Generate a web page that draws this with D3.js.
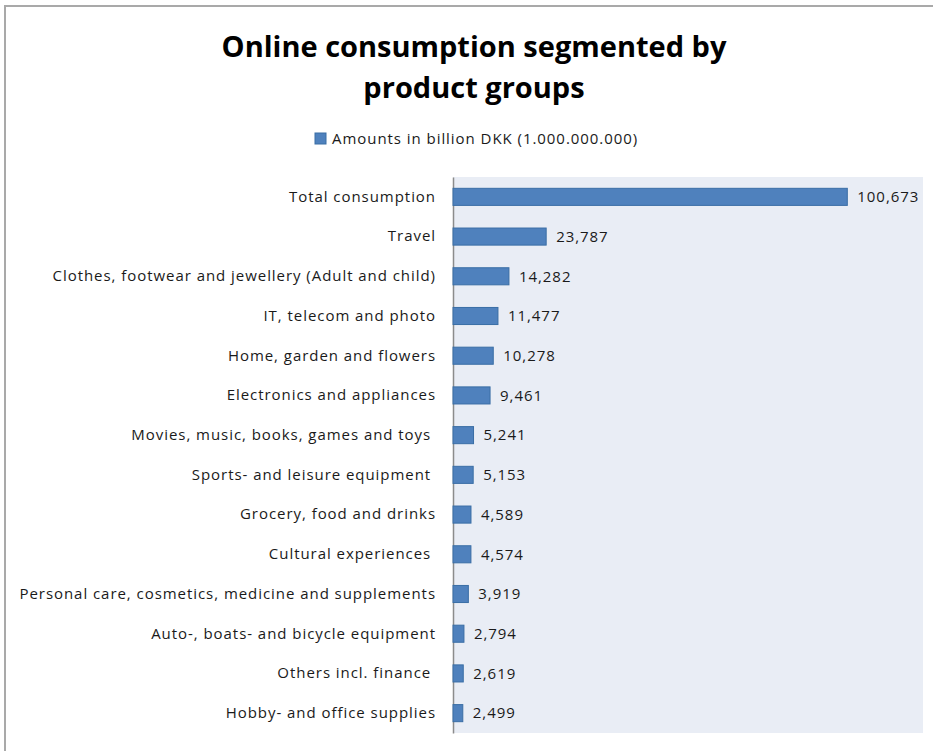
<!DOCTYPE html>
<html>
<head>
<meta charset="utf-8">
<script src="https://cdn.jsdelivr.net/npm/d3@7"></script>
<style>
  html, body { margin: 0; padding: 0; background: #fff; }
  svg text { white-space: pre; }
</style>
</head>
<body>
<svg id="chart" width="933" height="751"></svg>
<script>
// Product groups, top to bottom
const categories = [
  "Total consumption",
  "Travel",
  "Clothes, footwear and jewellery (Adult and child)",
  "IT, telecom and photo",
  "Home, garden and flowers",
  "Electronics and appliances",
  "Movies, music, books, games and toys ",
  "Sports- and leisure equipment ",
  "Grocery, food and drinks",
  "Cultural experiences ",
  "Personal care, cosmetics, medicine and supplements",
  "Auto-, boats- and bicycle equipment",
  "Others incl. finance ",
  "Hobby- and office supplies"
];

// Amounts in billion DKK
const values = [100.673, 23.787, 14.282, 11.477, 10.278, 9.461, 5.241, 5.153, 4.589, 4.574, 3.919, 2.794, 2.619, 2.499];

const titleLines = ["Online consumption segmented by", "product groups"];
const legendLabel = "Amounts in billion DKK (1.000.000.000)";

const data = categories.map((c, i) => ({ category: c, value: values[i] }));

const svg = d3.select("#chart");
const font = "'Open Sans', 'DejaVu Sans', sans-serif";
const textSize = 15;
const textSpacing = 0.95;

// Danish-style number formatting: comma as decimal separator
const locale = d3.formatLocale({ decimal: ",", thousands: ".", grouping: [3], currency: ["", " kr."] });
const fmt = locale.format(".3f");

// Chart frame
svg.append("path")
  .attr("d", "M5,751 V6 H933")
  .attr("fill", "none")
  .attr("stroke", "#a9a9a9")
  .attr("stroke-width", 2);

// Plot area
const plot = { left: 453, right: 923, top: 177, bottom: 733 };

const x = d3.scaleLinear().domain([0, 120]).range([plot.left, plot.right]);
const y = d3.scaleBand()
  .domain(categories)
  .range([plot.top, plot.bottom])
  .paddingInner(0.57)
  .paddingOuter(0.285);

svg.append("rect")
  .attr("x", plot.left)
  .attr("y", plot.top)
  .attr("width", plot.right - plot.left)
  .attr("height", plot.bottom - plot.top)
  .attr("fill", "#e9edf5");

// Title
svg.append("text")
  .attr("text-anchor", "middle")
  .attr("font-family", font)
  .attr("font-weight", "bold")
  .attr("font-size", 29)
  .attr("fill", "#000")
  .selectAll("tspan")
  .data(titleLines)
  .join("tspan")
  .attr("x", 474)
  .attr("y", (d, i) => 57 + i * 41)
  .text(d => d);

// Legend
const legend = svg.append("g").attr("transform", "translate(315,133)");
legend.append("rect")
  .attr("width", 11).attr("height", 11)
  .attr("fill", "#4f81bd").attr("stroke", "#3a6ea5");
legend.append("text")
  .attr("x", 17).attr("y", 6)
  .attr("dy", "0.35em")
  .attr("font-family", font)
  .attr("font-size", textSize)
  .attr("letter-spacing", textSpacing)
  .attr("fill", "#1a1a1a")
  .text(legendLabel);

// Category axis
const yAxis = d3.axisLeft(y).tickSize(0).tickPadding(17);
const gy = svg.append("g")
  .attr("transform", `translate(${plot.left},0)`)
  .call(yAxis);
gy.select(".domain").attr("stroke", "#8c8c8c").attr("stroke-width", 1.5);
gy.selectAll("text")
  .attr("font-family", font)
  .attr("font-size", textSize)
  .attr("letter-spacing", textSpacing)
  .attr("fill", "#1a1a1a")
  .attr("xml:space", "preserve");

// Bars
svg.append("g")
  .selectAll("rect")
  .data(data)
  .join("rect")
  .attr("x", x(0))
  .attr("y", d => y(d.category))
  .attr("width", d => x(d.value) - x(0))
  .attr("height", y.bandwidth())
  .attr("fill", "#4f81bd")
  .attr("stroke", "#3a6ea5")
  .attr("stroke-width", 1);

// Value labels
svg.append("g")
  .selectAll("text")
  .data(data)
  .join("text")
  .attr("x", d => x(d.value) + 10)
  .attr("y", d => y(d.category) + y.bandwidth() / 2)
  .attr("dy", "0.35em")
  .attr("font-family", font)
  .attr("font-size", textSize)
  .attr("letter-spacing", textSpacing)
  .attr("fill", "#1a1a1a")
  .text(d => fmt(d.value));
</script>
</body>
</html>
